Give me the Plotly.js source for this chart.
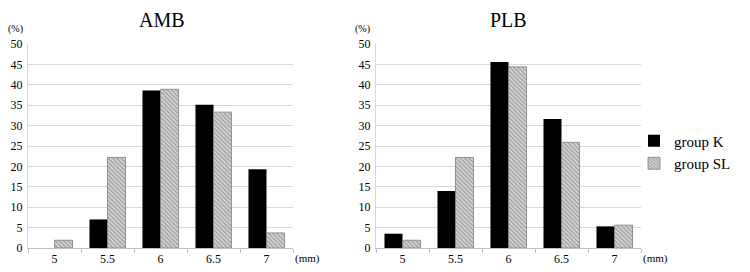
<!DOCTYPE html>
<html><head><meta charset="utf-8">
<script src="https://cdn.plot.ly/plotly-3.0.1.min.js"></script>
<style>body{margin:0;padding:0;background:#fff}#chart{width:750px;height:272px}</style>
</head><body><div id="chart"></div>
<script>
const categories = ['5', '5.5', '6', '6.5', '7'];
const ambK = [0, 7.0, 38.6, 35.1, 19.3];
const ambSL = [1.9, 22.2, 38.9, 33.3, 3.7];
const plbK = [3.5, 14.0, 45.6, 31.6, 5.3];
const plbSL = [1.9, 22.2, 44.4, 25.9, 5.6];
const yTicks = [0, 5, 10, 15, 20, 25, 30, 35, 40, 45, 50];

const FONT = 'Liberation Serif';
const kStyle = {color: '#000000', line: {color: '#000000', width: 0}};
const slStyle = {color: '#c8c8c8', line: {color: '#7f7f7f', width: 0.8},
  pattern: {shape: '\\', fgcolor: '#999999', bgcolor: '#d6d6d6', size: 3, solidity: 0.4}};

const traces = [
  {type: 'bar', x: categories, y: ambK, name: 'group K', marker: kStyle, xaxis: 'x', yaxis: 'y', legendgroup: 'k'},
  {type: 'bar', x: categories, y: ambSL, name: 'group SL', marker: slStyle, xaxis: 'x', yaxis: 'y', legendgroup: 'sl'},
  {type: 'bar', x: categories, y: plbK, name: 'group K', marker: kStyle, xaxis: 'x2', yaxis: 'y2', legendgroup: 'k', showlegend: false},
  {type: 'bar', x: categories, y: plbSL, name: 'group SL', marker: slStyle, xaxis: 'x2', yaxis: 'y2', legendgroup: 'sl', showlegend: false}
];

const xBase = {type: 'category', showgrid: false, showline: true, linecolor: '#bfbfbf', linewidth: 1,
  ticks: 'outside', tickson: 'boundaries', ticklen: 4, tickcolor: '#bfbfbf',
  tickfont: {family: FONT, size: 12, color: '#000'}, fixedrange: true};
const yBase = {range: [0, 50], tickvals: yTicks, showgrid: true, gridcolor: '#d9d9d9', gridwidth: 1,
  showline: true, linecolor: '#d9d9d9', ticks: '', zeroline: false, ticklabelstandoff: 2,
  tickfont: {family: FONT, size: 12, color: '#000'}, fixedrange: true};

const yDom = [24/272, 228/272];
function ann(text, px, py, size) {
  return {text: text, x: px/750, y: 1 - py/272, xref: 'paper', yref: 'paper', showarrow: false,
    xanchor: 'center', yanchor: 'middle', font: {family: FONT, size: size, color: '#000'}};
}
const layout = {
  width: 750, height: 272,
  margin: {l: 0, r: 0, t: 0, b: 0},
  paper_bgcolor: '#fff', plot_bgcolor: '#fff',
  barmode: 'group', bargap: 0.32, bargroupgap: 0,
  font: {family: FONT, color: '#000'},
  xaxis: Object.assign({}, xBase, {domain: [28/750, 293/750], anchor: 'y'}),
  yaxis: Object.assign({}, yBase, {domain: yDom, anchor: 'x'}),
  xaxis2: Object.assign({}, xBase, {domain: [376/750, 641/750], anchor: 'y2'}),
  yaxis2: Object.assign({}, yBase, {domain: yDom, anchor: 'x2'}),
  showlegend: true,
  legend: {x: 634/750, y: 1 - 152/272, xanchor: 'left', yanchor: 'middle',
    font: {family: FONT, size: 15, color: '#000'}, itemwidth: 30, tracegroupgap: 0, bgcolor: 'rgba(0,0,0,0)'},
  annotations: [
    ann('AMB', 162, 20, 20),
    ann('PLB', 508, 20, 20),
    ann('(%)', 15, 29, 10),
    ann('(%)', 362, 29, 10),
    ann('(mm)', 307, 258, 11),
    ann('(mm)', 655, 258, 11)
  ]
};

Plotly.newPlot('chart', traces, layout, {displayModeBar: false, staticPlot: true});
</script></body></html>
